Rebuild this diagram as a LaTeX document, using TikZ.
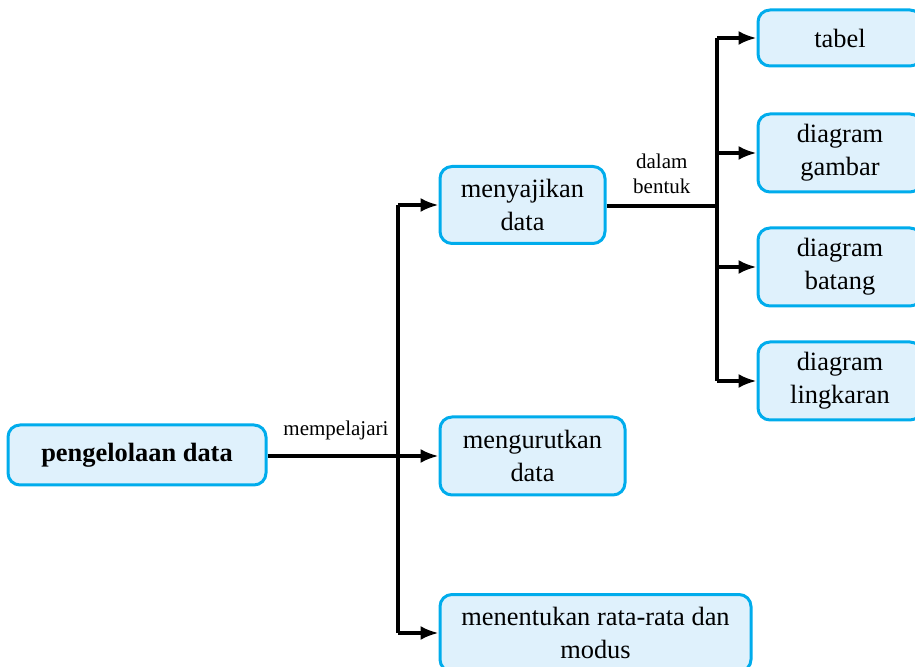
\documentclass[tikz,border=0pt]{standalone}
\usepackage{fontspec}
\setmainfont{Liberation Serif}
\usetikzlibrary{arrows.meta}
\definecolor{boxline}{RGB}{0,172,236}
\definecolor{boxfill}{RGB}{223,241,252}

\begin{document}
\begin{tikzpicture}[x=0.5pt, y=-0.5pt, >={Latex[length=9pt, width=7pt]}, box/.style={draw=boxline, fill=boxfill, line width=1.5pt, rounded corners=6pt, align=center, inner sep=0pt, font=\fontsize{13.2}{16.5}\selectfont}, lbl/.style={align=center, font=\fontsize{10.5}{12.5}\selectfont}, link/.style={line width=1.6pt}]
	\clip (0,0) rectangle (915,667);
	\node[box, minimum width=129pt, minimum height=30pt, font=\fontsize{13.2}{16.5}\selectfont\bfseries] (P) at (137,455) {pengelolaan data};
	\node[box, minimum width=82.5pt, minimum height=38.5pt] (S) at (522.5,205) {menyajikan\\data};
	\node[box, minimum width=92.5pt, minimum height=39pt] (U) at (532.5,456) {mengurutkan\\data};
	\node[box, minimum width=155.5pt, minimum height=38.5pt] (M) at (595.5,633) {menentukan rata-rata dan\\modus};
	\node[box, minimum width=82pt, minimum height=28pt] (T) at (840,38) {tabel};
	\node[box, minimum width=82pt, minimum height=39pt] (G) at (840,153) {diagram\\gambar};
	\node[box, minimum width=82pt, minimum height=39pt] (B) at (840,267) {diagram\\batang};
	\node[box, minimum width=82pt, minimum height=39pt] (L) at (840,381) {diagram\\lingkaran};
	\coordinate (j1) at (398,456);
	\coordinate (j2) at (717,206);
	\draw[link, ->] (P.east |- j1) -- (U.west) node[lbl, pos=0.4, above=4pt] {mempelajari};
	\draw[link] (j1 |- S) -- (j1 |- M);
	\draw[link, ->] (j1 |- S) -- (S.west);
	\draw[link, ->] (j1 |- M) -- (M.west);
	\draw[link] (S.east |- j2) -- (j2) node[lbl, midway, above=2pt] {dalam\\bentuk};
	\draw[link] (j2 |- T) -- (j2 |- L);
	\draw[link, ->] (j2 |- T) -- (T.west);
	\draw[link, ->] (j2 |- G) -- (G.west);
	\draw[link, ->] (j2 |- B) -- (B.west);
	\draw[link, ->] (j2 |- L) -- (L.west);
\end{tikzpicture}
\end{document}
